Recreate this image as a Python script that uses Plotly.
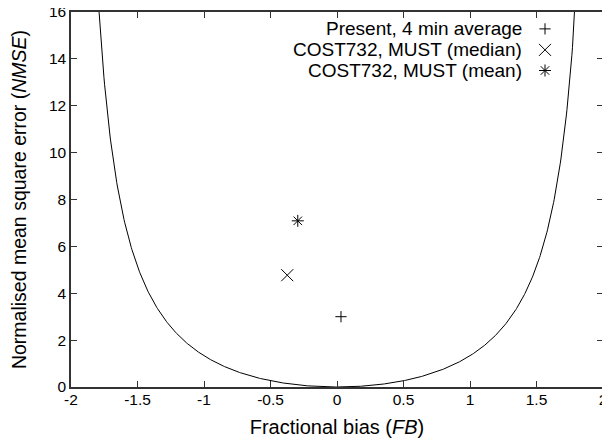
import numpy as np
import plotly.graph_objects as go

# Data points
series_names = ["Present, 4 min average", "COST732, MUST (median)", "COST732, MUST (mean)"]
fb_values = [0.03, -0.374, -0.295]
nmse_values = [3.0, 4.77, 7.09]
symbols = ["cross-thin", "x-thin", "asterisk"]
sizes = [8, 12, 10]

x_ticks = [-2, -1.5, -1, -0.5, 0, 0.5, 1, 1.5, 2]
x_tick_labels = ["-2", "-1.5", "-1", "-0.5", "0", "0.5", "1", "1.5", "2"]
y_ticks = [0, 2, 4, 6, 8, 10, 12, 14, 16]

# Theoretical minimum NMSE for a given FB: NMSE = 4 FB^2 / (4 - FB^2)
fb_curve = np.linspace(-1.83, 1.83, 801)
nmse_curve = 4 * fb_curve**2 / (4 - fb_curve**2)

FONT = "Liberation Sans, Arial, sans-serif"
fig = go.Figure()

fig.add_trace(go.Scatter(x=fb_curve, y=nmse_curve, mode="lines",
                         line=dict(color="black", width=1), showlegend=False,
                         hoverinfo="skip"))

for name, fx, ny, sym, sz in zip(series_names, fb_values, nmse_values, symbols, sizes):
    fig.add_trace(go.Scatter(x=[fx], y=[ny], mode="markers", name=name, showlegend=False,
                             marker=dict(symbol=sym, size=sz, color="black",
                                         line=dict(color="black", width=1))))

# Custom gnuplot-style legend (text left, symbol right) on a hidden overlay axis
legend_y = [0.955, 0.899, 0.844]
for name, sym, sz, ly in zip(series_names, symbols, sizes, legend_y):
    fig.add_trace(go.Scatter(x=[0.891], y=[ly], mode="markers", xaxis="x2", yaxis="y2",
                             showlegend=False, hoverinfo="skip",
                             marker=dict(symbol=sym, size=sz, color="black",
                                         line=dict(color="black", width=1))))
    fig.add_annotation(x=0.852, y=ly, xref="x2", yref="y2", text=name, showarrow=False,
                       xanchor="right", yanchor="middle",
                       font=dict(family=FONT, size=19, color="black"))

axis_common = dict(showgrid=False, zeroline=False, ticks="inside", ticklen=6,
                   tickwidth=1, tickcolor="#333", mirror="allticks", showline=True,
                   linecolor="#333", linewidth=1.5, ticklabeloverflow="allow",
                   automargin=False,
                   tickfont=dict(family=FONT, size=15.5, color="black"))

# page body has an 8px margin, so the figure is sized to fit the 610x447 window
fig.update_layout(
    width=602, height=431,
    margin=dict(l=63, r=7, t=4, b=52),
    paper_bgcolor="white", plot_bgcolor="white",
    xaxis=dict(range=[-2, 2], tickvals=x_ticks, ticktext=x_tick_labels,
               ticklabelstandoff=-2,
               title=dict(text="Fractional bias (<i>FB</i>)", standoff=13,
                          font=dict(family=FONT, size=20, color="black")),
               **axis_common),
    yaxis=dict(range=[0, 16], tickvals=y_ticks,
               title=dict(text="Normalised mean square error (<i>NMSE</i>)", standoff=19,
                          font=dict(family=FONT, size=19.5, color="black")),
               **axis_common),
    xaxis2=dict(range=[0, 1], overlaying="x", visible=False),
    yaxis2=dict(range=[0, 1], overlaying="y", visible=False),
    showlegend=False,
)

fig.write_html("out.html")
